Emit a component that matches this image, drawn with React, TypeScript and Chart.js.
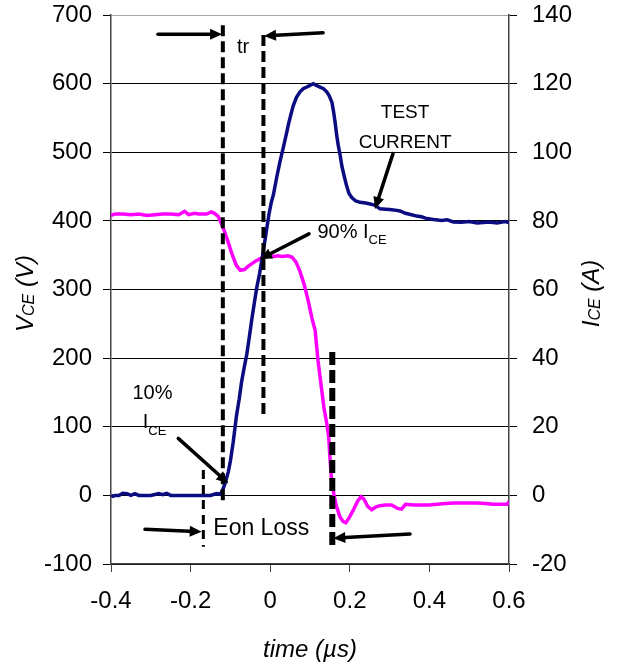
import React, { useEffect, useRef } from 'react';
import { Chart, registerables } from 'chart.js';

Chart.register(...registerables);

// ---------- data ----------
// V_CE (left axis, volts)
const vceTime = [
  -0.4, -0.39, -0.37, -0.35, -0.33, -0.31, -0.29, -0.27, -0.25, -0.23, -0.215, -0.205, -0.19, -0.18,
  -0.17, -0.16, -0.148, -0.14, -0.13, -0.125, -0.115, -0.105, -0.095, -0.085, -0.075, -0.065, -0.055,
  -0.045, -0.035, -0.025, -0.015, 0.0, 0.01, 0.02, 0.03, 0.045, 0.055, 0.065, 0.075, 0.085, 0.095,
  0.105, 0.113, 0.12, 0.128, 0.135, 0.142, 0.147, 0.15, 0.154, 0.16, 0.166, 0.175, 0.183, 0.19, 0.2,
  0.21, 0.22, 0.228, 0.235, 0.245, 0.255, 0.265, 0.275, 0.29, 0.305, 0.32, 0.33, 0.34, 0.36, 0.38,
  0.4, 0.42, 0.44, 0.46, 0.48, 0.5, 0.52, 0.54, 0.56, 0.58, 0.595, 0.6,
];
const vceVolts = [
  408, 410, 410, 409, 410, 408, 409, 410, 410, 409, 414, 409, 411, 410,
  410, 410, 413, 411, 406, 399, 385, 368, 350, 335, 328, 329, 334,
  338, 342, 345, 347, 349, 348, 349, 348, 349, 347, 340, 326, 308, 285,
  258, 240, 197, 160, 128, 105, 85, 56, 24, 2, -15, -31, -38, -40, -31,
  -20, -8, -2, -5, -16, -21, -17, -15, -14, -14, -19, -20, -13, -14, -14,
  -14, -13, -12, -11, -11, -11, -11, -12, -13, -13, -13, -9,
];

// I_CE (right axis, amperes)
const iceTime = [
  -0.4, -0.395, -0.39, -0.38, -0.37, -0.36, -0.35, -0.34, -0.33, -0.3, -0.28, -0.27, -0.26, -0.25,
  -0.22, -0.2, -0.17, -0.15, -0.135, -0.125, -0.118, -0.112, -0.105, -0.1, -0.093, -0.085, -0.078,
  -0.072, -0.065, -0.059, -0.052, -0.046, -0.04, -0.034, -0.027, -0.021, -0.015, -0.009, -0.003,
  0.003, 0.008, 0.016, 0.024, 0.033, 0.04, 0.046, 0.052, 0.058, 0.066, 0.075, 0.083, 0.092, 0.1,
  0.108, 0.116, 0.125, 0.134, 0.142, 0.148, 0.155, 0.159, 0.163, 0.167, 0.171, 0.176, 0.18, 0.186,
  0.192, 0.198, 0.205, 0.215, 0.226, 0.24, 0.251, 0.262, 0.27, 0.276, 0.29, 0.3, 0.31, 0.326, 0.34,
  0.355, 0.368, 0.38, 0.39, 0.41, 0.43, 0.445, 0.46, 0.48, 0.5, 0.52, 0.535, 0.55, 0.57, 0.59, 0.6,
];
const iceAmps = [
  0, -0.3, 0, 0, 0.6, 0.5, 0, 0.5, 0, 0, 0.5, 0.2, 0.6, 0,
  0, 0, 0, 0, 0.5, 0.3, 2, 4, 7, 10, 15.5, 23, 28,
  33, 37.5, 41, 46.5, 51.5, 56, 60.4, 64.5, 68.5, 73, 77.5, 82,
  85.5, 87.6, 92.5, 97, 101.4, 105, 108.2, 111, 113.6, 116, 117.6, 118.5, 119, 119.5,
  120, 119.5, 119, 118.5, 117.6, 116.5, 114.6, 112, 108.8, 105, 102, 99, 96, 93,
  90.2, 88, 86.8, 85.8, 85.4, 85.2, 84.9, 84.6, 84, 83.5, 83.4, 83.3, 83.2, 82.9, 82.2,
  81.8, 81.4, 81.2, 80.8, 80.4, 80.1, 80.3, 79.7, 79.6, 79.8, 79.4, 79.5, 79.7, 79.4, 79.8, 79.5,
];

const timeTicks = [-0.4, -0.2, 0, 0.2, 0.4, 0.6];
const voltTicks = [-100, 0, 100, 200, 300, 400, 500, 600, 700];
const ampTicks = [-20, 0, 20, 40, 60, 80, 100, 120, 140];

// annotation geometry in data units (time, volts)
const dashLineTime = [-0.119, -0.017, -0.168, 0.156];
const dashLineTop = [685, 671, 37, 209];
const dashLineBottom = [-7, 113, -75, -75];

const arrowTail = [
  [-0.282, 672], [0.133, 674], [0.3085, 498], [0.0975, 381], [-0.231, 83], [-0.3146, -49.4], [0.3513, -56.3],
];
const arrowHead = [
  [-0.121, 672], [-0.0156, 669.4], [0.2633, 417.3], [-0.0256, 344.4], [-0.1053, 17.6], [-0.1721, -52.9], [0.1585, -62.5],
];

const FONT = '"Liberation Sans", Arial, Helvetica, sans-serif';

function drawArrow(ctx: CanvasRenderingContext2D, x1: number, y1: number, x2: number, y2: number) {
  const a = Math.atan2(y2 - y1, x2 - x1);
  const L = 12;
  const W = 5.5;
  const bx = x2 - L * Math.cos(a);
  const by = y2 - L * Math.sin(a);
  ctx.save();
  ctx.strokeStyle = '#000';
  ctx.fillStyle = '#000';
  ctx.lineWidth = 3.5;
  ctx.lineCap = 'round';
  ctx.setLineDash([]);
  ctx.beginPath();
  ctx.moveTo(x1, y1);
  ctx.lineTo(bx, by);
  ctx.stroke();
  ctx.beginPath();
  ctx.moveTo(x2, y2);
  ctx.lineTo(bx + W * Math.sin(a), by - W * Math.cos(a));
  ctx.lineTo(bx - W * Math.sin(a), by + W * Math.cos(a));
  ctx.closePath();
  ctx.fill();
  ctx.restore();
}

// text with subscript: main + sub + tail
function drawSubText(
  ctx: CanvasRenderingContext2D,
  x: number,
  y: number,
  main: string,
  sub: string,
  tail: string,
  size: number,
  subSize: number,
  subDrop: number,
  italic: boolean,
) {
  const st = italic ? 'italic ' : '';
  ctx.textBaseline = 'middle';
  ctx.textAlign = 'left';
  ctx.font = `${st}${size}px ${FONT}`;
  ctx.fillText(main, x, y);
  let cx = x + ctx.measureText(main).width;
  ctx.font = `${st}${subSize}px ${FONT}`;
  ctx.fillText(sub, cx, y + subDrop);
  cx += ctx.measureText(sub).width;
  if (tail) {
    ctx.font = `${st}${size}px ${FONT}`;
    ctx.fillText(tail, cx, y);
    cx += ctx.measureText(tail).width;
  }
  return cx - x;
}

function measureSub(ctx: CanvasRenderingContext2D, main: string, sub: string, tail: string, size: number, subSize: number, italic: boolean) {
  const st = italic ? 'italic ' : '';
  ctx.font = `${st}${size}px ${FONT}`;
  let w = ctx.measureText(main + tail).width;
  ctx.font = `${st}${subSize}px ${FONT}`;
  w += ctx.measureText(sub).width;
  return w;
}

const annotationPlugin = {
  id: 'annotations',
  afterDatasetsDraw(chart: any) {
    const { ctx, scales, chartArea } = chart;
    const xs = scales.x;
    const ys = scales.y;
    const X = (t: number) => xs.getPixelForValue(t);
    const Y = (v: number) => ys.getPixelForValue(v);
    ctx.save();

    // dashed vertical markers
    const widths = [4, 4, 3, 6];
    const dashes = [[11, 5], [11, 5], [9, 6], [13, 5]];
    dashLineTime.forEach((t, i) => {
      ctx.save();
      ctx.strokeStyle = '#000';
      ctx.lineWidth = widths[i];
      ctx.setLineDash(dashes[i]);
      ctx.lineCap = 'butt';
      ctx.beginPath();
      ctx.moveTo(X(t), Y(dashLineTop[i]));
      ctx.lineTo(X(t), Y(dashLineBottom[i]));
      ctx.stroke();
      ctx.restore();
    });

    // arrows
    arrowTail.forEach((p, i) => {
      const h = arrowHead[i];
      drawArrow(ctx, X(p[0]), Y(p[1]), X(h[0]), Y(h[1]));
    });

    // labels
    ctx.fillStyle = '#000';
    ctx.textBaseline = 'middle';
    ctx.textAlign = 'center';
    ctx.font = `20px ${FONT}`;
    ctx.fillText('tr', X(-0.068), Y(653));
    ctx.font = `19px ${FONT}`;
    ctx.fillText('TEST', X(0.339), Y(557));
    ctx.fillText('CURRENT', X(0.339), Y(513.5));
    ctx.font = `20px ${FONT}`;
    ctx.fillText('10%', X(-0.2957), Y(148.7));
    drawSubText(ctx, X(0.1188), Y(383.8), '90% I', 'CE', '', 20, 13, 8, false);
    drawSubText(ctx, X(-0.3204), Y(106.2), 'I', 'CE', '', 20, 13, 9, false);
    ctx.textAlign = 'left';
    ctx.font = `23px ${FONT}`;
    ctx.fillText('Eon Loss', X(-0.143), Y(-48));

    // axis titles
    ctx.fillStyle = '#000';
    const cy = (chartArea.top + chartArea.bottom) / 2 + 4;
    // left
    ctx.save();
    ctx.translate(26, cy);
    ctx.rotate(-Math.PI / 2);
    const wl = measureSub(ctx, 'V', 'CE', ' (V)', 24, 16, true);
    drawSubText(ctx, -wl / 2, 0, 'V', 'CE', ' (V)', 24, 16, 4, true);
    ctx.restore();
    // right
    ctx.save();
    ctx.translate(592, cy);
    ctx.rotate(-Math.PI / 2);
    const wr = measureSub(ctx, 'I', 'CE', ' (A)', 24, 16, true);
    drawSubText(ctx, -wr / 2, 0, 'I', 'CE', ' (A)', 24, 16, 4, true);
    ctx.restore();
    // bottom
    ctx.textAlign = 'center';
    ctx.textBaseline = 'middle';
    ctx.font = `italic 24px ${FONT}`;
    ctx.fillText('time (\u00b5s)', (chartArea.left + chartArea.right) / 2, 650);

    ctx.restore();
  },
};

export default function App() {
  const ref = useRef<HTMLCanvasElement | null>(null);

  useEffect(() => {
    if (!ref.current) return;
    Chart.defaults.font.family = FONT;
    Chart.defaults.color = '#000';
    const chart = new Chart(ref.current, {
      type: 'line',
      data: {
        datasets: [
          {
            label: 'ICE',
            data: iceTime.map((t, i) => ({ x: t, y: iceAmps[i] })),
            yAxisID: 'y1',
            borderColor: '#0c0c82',
            borderWidth: 3.5,
            pointRadius: 0,
            tension: 0,
            order: 0,
          },
          {
            label: 'VCE',
            data: vceTime.map((t, i) => ({ x: t, y: vceVolts[i] })),
            yAxisID: 'y',
            borderColor: '#ff00ff',
            borderWidth: 3.5,
            pointRadius: 0,
            tension: 0,
            order: 1,
          },
        ],
      },
      options: {
        animation: false,
        responsive: false,
        devicePixelRatio: 1,
        layout: { padding: { top: 15, left: 0, right: 0, bottom: 0 } },
        plugins: { legend: { display: false }, tooltip: { enabled: false } },
        scales: {
          x: {
            type: 'linear',
            min: -0.4,
            max: 0.6,
            afterBuildTicks: (s: any) => {
              s.ticks = timeTicks.map((v) => ({ value: v }));
            },
            afterFit: (s: any) => {
              s.height = 105;
              s.paddingLeft = 0;
              s.paddingRight = 0;
            },
            ticks: {
              font: { size: 24 },
              padding: 15,
              maxRotation: 0,
              callback: (v: any) => String(v),
            },
            grid: { drawOnChartArea: false, drawTicks: true, tickLength: 8, tickColor: '#444', color: '#444' },
            border: { display: true, color: '#444', width: 1.5 },
          },
          y: {
            type: 'linear',
            position: 'left',
            min: -100,
            max: 700,
            afterBuildTicks: (s: any) => {
              s.ticks = voltTicks.map((v) => ({ value: v }));
            },
            afterFit: (s: any) => {
              s.width = 111;
              s.paddingTop = 0;
              s.paddingBottom = 0;
            },
            ticks: { font: { size: 24 }, padding: 11, callback: (v: any) => String(v) },
            grid: {
              drawTicks: true,
              tickLength: 8,
              tickColor: '#000',
              lineWidth: 1,
              color: (c: any) => (c.tick && c.tick.value === 700 ? '#a8a8a8' : '#000'),
            },
            border: { display: true, color: '#444', width: 1.5 },
          },
          y1: {
            type: 'linear',
            position: 'right',
            min: -20,
            max: 140,
            afterBuildTicks: (s: any) => {
              s.ticks = ampTicks.map((v) => ({ value: v }));
            },
            afterFit: (s: any) => {
              s.width = 114;
              s.paddingTop = 0;
              s.paddingBottom = 0;
            },
            ticks: { font: { size: 24 }, padding: 15, callback: (v: any) => String(v) },
            grid: { drawOnChartArea: false, drawTicks: true, tickLength: 8, tickColor: '#000', color: '#000' },
            border: { display: true, color: '#444', width: 1.5 },
          },
        },
      },
      plugins: [annotationPlugin],
    });
    return () => chart.destroy();
  }, []);

  return (
    <div style={{ position: 'absolute', left: 0, top: 0, width: 623, height: 669, background: '#fff' }}>
      <canvas ref={ref} width={623} height={669} style={{ display: 'block' }} />
    </div>
  );
}
